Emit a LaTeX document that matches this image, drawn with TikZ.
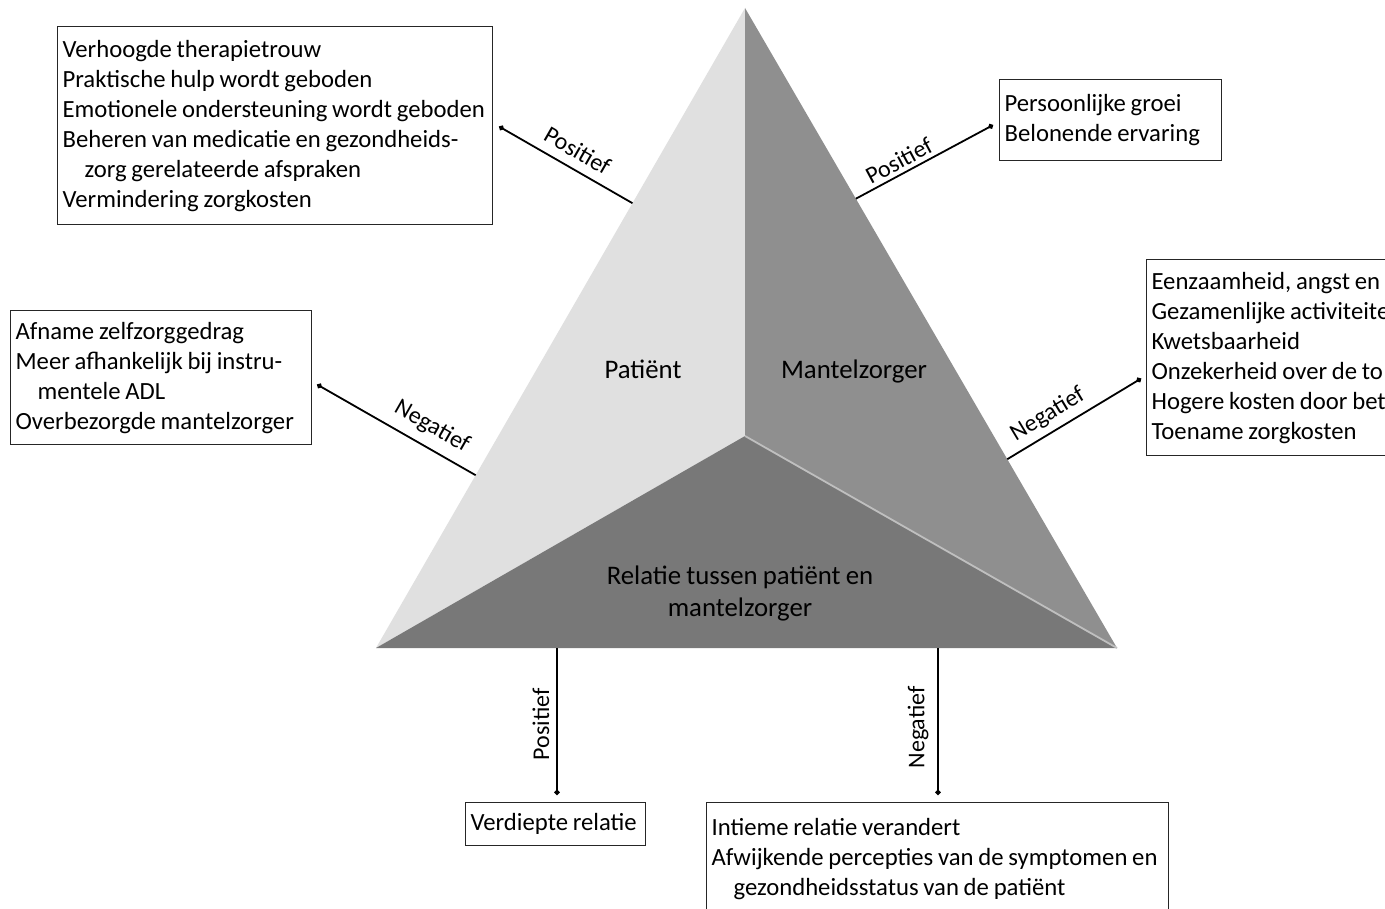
\documentclass[tikz,border=0pt]{standalone}
\usepackage{fontspec}
\setmainfont{Carlito}[WordSpace=0.85]
\usetikzlibrary{arrows.meta,calc}
\begin{document}
\begin{tikzpicture}[x=0.5pt,y=-0.5pt,
  box/.style={draw=black!85, line width=0.6pt, anchor=north west, align=flush left,
    inner xsep=2.5pt, inner ysep=0pt, font=\fontsize{12.35}{15}\selectfont},
  conn/.style={line width=0.9pt, -{Circle[length=2.6pt]}},
  elab/.style={font=\fontsize{12}{14}\selectfont, sloped, inner sep=1.5pt},
  vlab/.style={font=\fontsize{12}{14}\selectfont, rotate=90, inner sep=1.5pt},
  face/.style={font=\fontsize{13.4}{16}\selectfont, align=center, anchor=base}]
\useasboundingbox (0,0) rectangle (1385,909);
\clip (0,0) rectangle (1385,909);
\fill[white] (0,0) rectangle (1385,909);
% triangle
\coordinate (apex) at (745,8);
\coordinate (bl) at (376,648);
\coordinate (br) at (1117,648);
\coordinate (ctr) at (745,436);
\fill[black!12] (apex)--(bl)--(ctr)--cycle;
\fill[black!44] (apex)--(ctr)--(br)--cycle;
\fill[black!53] (bl)--(ctr)--(br)--cycle;
\draw[black!25, line width=0.9pt] (ctr)--(br);
\node[face] (pat) at (643,378) {Patiënt};
\node[face] (man) at (854,378) {Mantelzorger};
\node[face] (rel) at (740,616) {Relatie tussen patiënt en\\mantelzorger};
% boxes
\node[box, text width=212.5pt, minimum height=99pt] (b1) at (57,26)
  {Verhoogde therapietrouw\\Praktische hulp wordt geboden\\Emotionele ondersteuning wordt geboden\\Beheren van medicatie en gezondheids-\\\hspace*{11pt}zorg gerelateerde afspraken\\Vermindering zorgkosten};
\node[box, text width=106pt, minimum height=40.5pt] (b2) at (999,79)
  {Persoonlijke groei\\Belonende ervaring};
\node[box, text width=145.5pt, minimum height=67pt] (b3) at (10,310)
  {Afname zelfzorggedrag\\Meer afhankelijk bij instru-\\\hspace*{11pt}mentele ADL\\Overbezorgde mantelzorger};
\node[box, text width=135pt, minimum height=98pt] (b4) at (1146,259)
  {Eenzaamheid, angst en\\Gezamenlijke activiteite\\Kwetsbaarheid\\Onzekerheid over de to\\Hogere kosten door bet\\Toename zorgkosten};
\node[box, text width=85pt, minimum height=21.5pt] (b5) at (465,802)
  {Verdiepte relatie};
\node[box, text width=226pt, minimum height=56pt] (b6) at (706,802)
  {Intieme relatie verandert\\Afwijkende percepties van de symptomen en\\\hspace*{11pt}gezondheidsstatus van de patiënt};
% connector points
\coordinate (s1) at ($(apex)!0.305!(bl)$);
\coordinate (s3) at ($(apex)!0.73!(bl)$);
\coordinate (s2) at ($(apex)!0.298!(br)$);
\coordinate (s4) at ($(apex)!0.705!(br)$);
\coordinate (s5) at (557,648);
\coordinate (s6) at (938,648);
\coordinate (d1) at ($(b1.east)+(6,1)$);
\coordinate (d2) at ($(b2.west)+(-6,5)$);
\coordinate (d3) at ($(b3.east)+(5,7)$);
\coordinate (d4) at ($(b4.west)+(-5,21)$);
\coordinate (d5) at ($(s5|-b5.north)+(0,-7)$);
\coordinate (d6) at ($(s6|-b6.north)+(0,-7)$);
\draw[conn] (s1) -- node[elab, pos=0.48, above=3pt] {Positief} (d1);
\draw[conn] (s2) -- node[elab, pos=0.36, above=0.5pt] {Positief} (d2);
\draw[conn] (s3) -- node[elab, pos=0.34, above=3pt] {Negatief} (d3);
\draw[conn] (s4) -- node[elab, pos=0.37, above=1.5pt] {Negatief} (d4);
\draw[conn] (s5) -- node[vlab, pos=0.52, yshift=8pt] {Positief} (d5);
\draw[conn] (s6) -- node[vlab, pos=0.54, yshift=10pt] {Negatief} (d6);
\end{tikzpicture}
\end{document}
